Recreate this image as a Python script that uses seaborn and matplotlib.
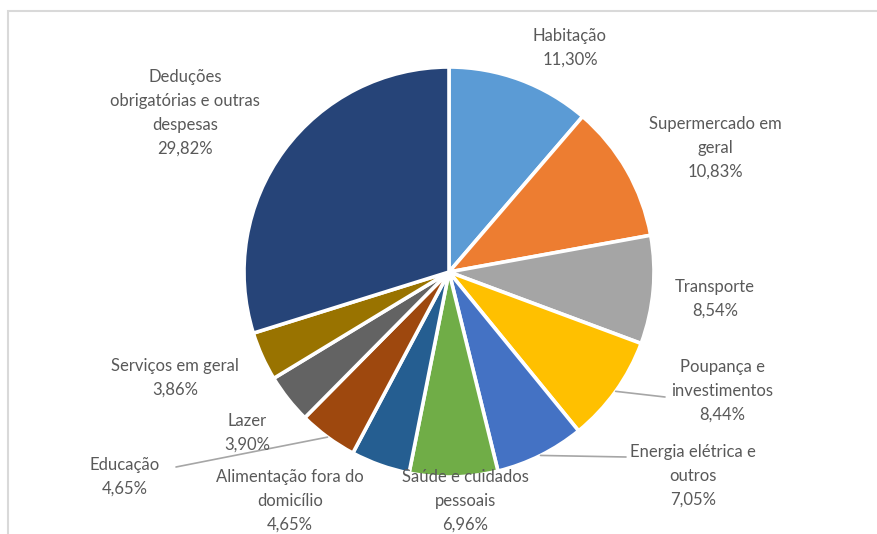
import matplotlib
matplotlib.use("Agg")
import matplotlib.pyplot as plt
import seaborn as sns
import numpy as np

# Monthly budget composition (%)
categories = [
    "Habitação",
    "Supermercado em\ngeral",
    "Transporte",
    "Poupança e\ninvestimentos",
    "Energia elétrica e\noutros",
    "Saúde e cuidados\npessoais",
    "Alimentação fora do\ndomicílio",
    "Educação",
    "Lazer",
    "Serviços em geral",
    "Deduções\nobrigatórias e outras\ndespesas",
]
values = [11.30, 10.83, 8.54, 8.44, 7.05, 6.96, 4.65, 4.65, 3.90, 3.86, 29.82]
colors = ["#5B9BD5", "#ED7D31", "#A5A5A5", "#FFC000", "#4472C4", "#70AD47",
          "#255E91", "#9E480E", "#636363", "#997300", "#264478"]

# Label anchor points in pixel space (x, y from top) and whether a leader line is drawn
label_pos = [(570, 48), (715, 148), (715, 299), (722, 391), (693, 476),
             (465, 501), (290, 501), (125, 477), (247, 433), (175, 378), (185, 113)]
leader = [False, False, False, True, True, False, False, True, False, False, False]
leader_end = {3: (665, 397), 4: (626, 457), 7: (176, 467)}

W, H = 877, 534
sns.set_theme(style="white")
plt.rcParams["font.family"] = ["Lato", "DejaVu Sans"]

fig = plt.figure(figsize=(W / 100, H / 100), dpi=100)
ax = fig.add_axes([0, 0, 1, 1])

cx, cy, R = 449, H - 272, 205
wedges, _ = ax.pie(values, colors=colors, startangle=90, counterclock=False,
                   radius=R, center=(cx, cy), frame=True,
                   wedgeprops=dict(edgecolor="white", linewidth=2.6))
ax.set_xlim(0, W)
ax.set_ylim(0, H)
ax.set_aspect("equal")
ax.axis("off")

def fmt(v):
    return f"{v:.2f}".replace(".", ",") + "%"

for i, (w, cat, v) in enumerate(zip(wedges, categories, values)):
    x, y = label_pos[i]
    ax.text(x, H - y, f"{cat}\n{fmt(v)}", ha="center", va="center",
            fontsize=12, color="#595959", linespacing=1.62, zorder=5)
    if leader[i]:
        mid = np.deg2rad((w.theta1 + w.theta2) / 2)
        sx, sy = cx + R * np.cos(mid), cy + R * np.sin(mid)
        ex, ey = leader_end[i]
        ax.plot([sx, ex], [sy, H - ey], color="#A6A6A6", lw=1.2, zorder=4)

# Light chart-area border
ax.add_patch(plt.Rectangle((8, -20), W + 20, H - 11 + 20, fill=False,
                           edgecolor="#D9D9D9", lw=1.5, zorder=0))

fig.savefig("out.png", dpi=100, facecolor="white")
